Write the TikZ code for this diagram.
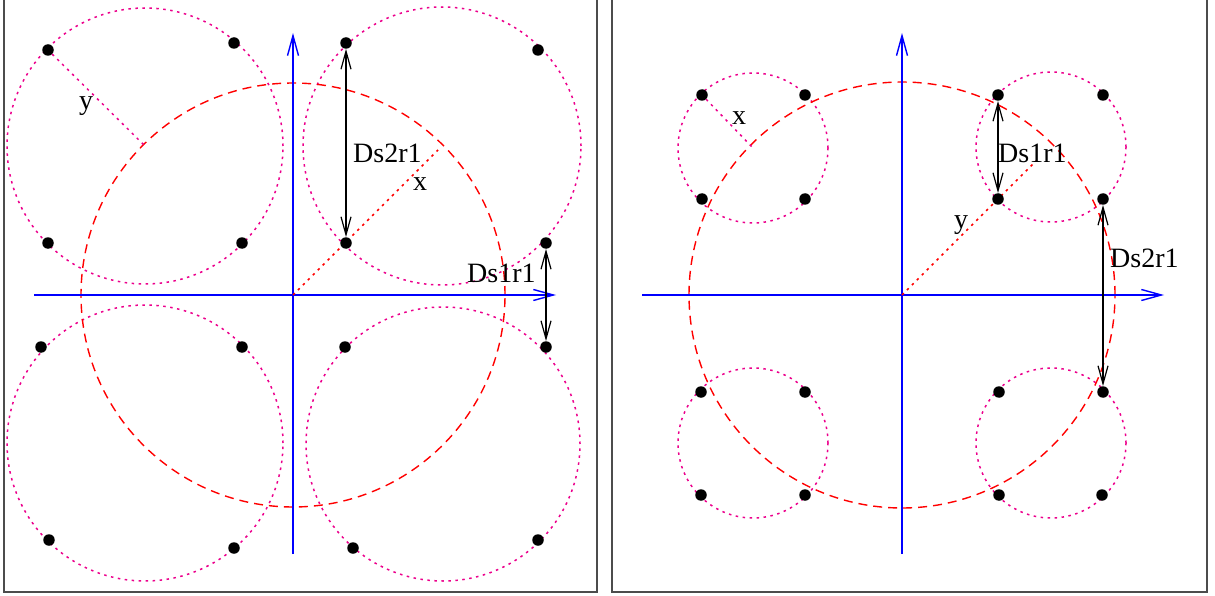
\documentclass[tikz,border=0pt]{standalone}
\usepackage{fontspec}
\setmainfont{Liberation Serif}
\usetikzlibrary{arrows.meta}
\begin{document}
\begin{tikzpicture}[x=1pt,y=-1pt,
  dot/.style={circle,fill=black,inner sep=0pt,minimum size=11.5pt},
  axis/.style={blue,line width=1.4pt,-{Straight Barb[length=20pt,width=11pt]}},
  ring/.style={magenta,line width=1.5pt,dash pattern=on 2.5pt off 4.5pt},
  bigring/.style={red,line width=1.4pt,dash pattern=on 9pt off 6pt},
  redray/.style={red,line width=1.5pt,dash pattern=on 2.5pt off 4.5pt},
  dimline/.style={black,line width=1.2pt,{Straight Barb[length=18pt,width=10pt]}-{Straight Barb[length=18pt,width=10pt]}},
  lbl/.style={font=\fontsize{28}{30}\selectfont,inner sep=0pt},
  panel/.style={draw=black!70,line width=2pt}]
\useasboundingbox (0,0) rectangle (1215,596);
% frames
\draw[panel] (4,-5) rectangle (597,592);
\draw[panel] (612,-5) rectangle (1207,592);

% ================= left panel =================
\coordinate (LO) at (293,295);
\coordinate (LXs) at (34,295);
\coordinate (LXe) at (556,295);
\coordinate (LYs) at (293,554);
\coordinate (LYe) at (293,33);
\coordinate (LAc) at (145,146);
\coordinate (LBc) at (442,146);
\coordinate (LCc) at (145,443);
\coordinate (LDc) at (443,444);
\coordinate (Lend) at (438,150);
\draw[ring] (LAc) circle[radius=138pt];
\draw[ring] (LBc) circle[radius=139pt];
\draw[ring] (LCc) circle[radius=138pt];
\draw[ring] (LDc) circle[radius=137pt];
\draw[bigring] (LO) circle[radius=212pt];
\draw[axis] (LXs) -- (LXe);
\draw[axis] (LYs) -- (LYe);
\draw[redray] (LO) -- (Lend);
\node[dot] (LA1) at (48,50) {};
\node[dot] (LA2) at (234,43) {};
\node[dot] (LA3) at (48,243) {};
\node[dot] (LA4) at (242,243) {};
\node[dot] (LB1) at (346,43) {};
\node[dot] (LB2) at (538,50) {};
\node[dot] (LB3) at (346,243) {};
\node[dot] (LB4) at (546,243) {};
\node[dot] (LC1) at (41,347) {};
\node[dot] (LC2) at (242,347) {};
\node[dot] (LC3) at (49,540) {};
\node[dot] (LC4) at (234,548) {};
\node[dot] (LD1) at (345,347) {};
\node[dot] (LD2) at (546,347) {};
\node[dot] (LD3) at (353,548) {};
\node[dot] (LD4) at (538,540) {};
\draw[ring] (LA1) -- (LAc);
\draw[dimline] (LB1) -- (LB3);
\draw[dimline] (LB4) -- (LD2);
\node[lbl,anchor=base] (Ly) at (86,110) {y};
\node[lbl,anchor=base] (Lx) at (420,191) {x};
\node[lbl,anchor=base west] (Lds2) at (353,163) {Ds2r1};
\node[lbl,anchor=base west] (Lds1) at (467,282) {Ds1r1};

% ================= right panel =================
\coordinate (RO) at (902,295);
\coordinate (RXs) at (642,295);
\coordinate (RXe) at (1164,295);
\coordinate (RYs) at (902,554);
\coordinate (RYe) at (902,33);
\coordinate (RAc) at (753,148);
\coordinate (RBc) at (1051,147);
\coordinate (RCc) at (753,443);
\coordinate (RDc) at (1051,443);
\coordinate (Rend) at (1036,161);
\draw[ring] (RAc) circle[radius=75pt];
\draw[ring] (RBc) circle[radius=75pt];
\draw[ring] (RCc) circle[radius=75pt];
\draw[ring] (RDc) circle[radius=75pt];
\draw[bigring] (RO) circle[radius=213pt];
\draw[axis] (RXs) -- (RXe);
\draw[axis] (RYs) -- (RYe);
\draw[redray] (RO) -- (Rend);
\node[dot] (RA1) at (702,95) {};
\node[dot] (RA2) at (805,95) {};
\node[dot] (RA3) at (702,199) {};
\node[dot] (RA4) at (805,199) {};
\node[dot] (RB1) at (998,95) {};
\node[dot] (RB2) at (1103,95) {};
\node[dot] (RB3) at (998,199) {};
\node[dot] (RB4) at (1103,199) {};
\node[dot] (RC1) at (701,392) {};
\node[dot] (RC2) at (805,392) {};
\node[dot] (RC3) at (701,495) {};
\node[dot] (RC4) at (805,495) {};
\node[dot] (RD1) at (999,392) {};
\node[dot] (RD2) at (1103,392) {};
\node[dot] (RD3) at (999,495) {};
\node[dot] (RD4) at (1102,495) {};
\draw[ring] (RA1) -- (RAc);
\draw[dimline] (RB1) -- (RB3);
\draw[dimline] (RB4) -- (RD2);
\node[lbl,anchor=base] (Rx) at (739,125) {x};
\node[lbl,anchor=base] (Ry) at (961,229) {y};
\node[lbl,anchor=base west] (Rds1) at (998,163) {Ds1r1};
\node[lbl,anchor=base west] (Rds2) at (1110,267) {Ds2r1};
\end{tikzpicture}
\end{document}
